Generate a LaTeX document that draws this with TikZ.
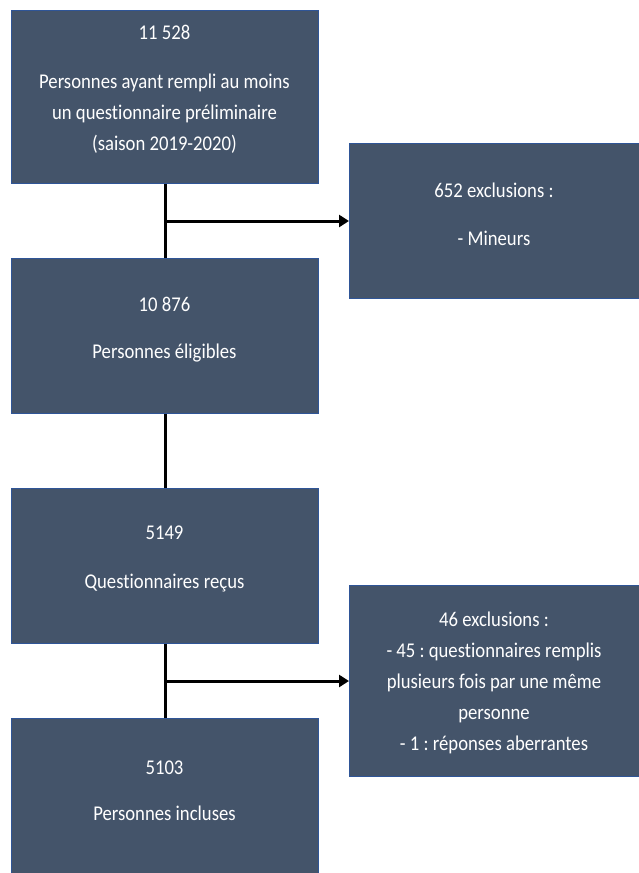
\documentclass[tikz,border=0pt]{standalone}
\usepackage{fontspec}
\setmainfont[FakeStretch=0.89, Ligatures={NoCommon}]{Carlito}
\frenchspacing
\usetikzlibrary{arrows.meta,calc}
\definecolor{boxfill}{HTML}{44546A}
\definecolor{boxline}{HTML}{2F5597}
\tikzset{
  flowbox/.style={draw=boxline, line width=1pt, fill=boxfill, rectangle, anchor=north west, inner sep=0pt},
  boxtext/.style={text=white, align=center, font=\fontsize{21}{31}\selectfont, inner sep=0pt},
  link/.style={line width=3pt, draw=black},
  linkarrow/.style={line width=3pt, draw=black, -{Triangle[length=10pt,width=12pt]}}
}
\begin{document}
\begin{tikzpicture}[x=1pt,y=-1pt]
\useasboundingbox (0,0) rectangle (639,873);
\clip (0,0) rectangle (639,873);
\fill[white] (0,0) rectangle (639,873);
% boxes
\node[flowbox, minimum width=307pt, minimum height=173pt] (b1) at (11,10) {};
\node[flowbox, minimum width=292pt, minimum height=155pt] (r1) at (349,143) {};
\node[flowbox, minimum width=307pt, minimum height=155pt] (b2) at (11,258) {};
\node[flowbox, minimum width=307pt, minimum height=155pt] (b3) at (11,488) {};
\node[flowbox, minimum width=292pt, minimum height=191pt] (r2) at (349,585) {};
\node[flowbox, minimum width=307pt, minimum height=170pt] (b4) at (11,718) {};
% texts
\node[boxtext] (t1) at (164.5,89.5) {11 528\\[18pt]Personnes ayant rempli au moins\\un questionnaire préliminaire\\(saison 2019-2020)};
\node[boxtext] (tr1) at (494,214) {652 exclusions :\\[17pt]- Mineurs};
\node[boxtext] (t2) at (164.5,329.5) {10 876\\[16pt]Personnes éligibles};
\node[boxtext] (t3) at (164.5,558.5) {5149\\[18pt]Questionnaires reçus};
\node[boxtext] (t4) at (164.5,791) {5103\\[15pt]Personnes incluses};
\node[boxtext] (tr2) at (494,683) {46 exclusions :\\- 45 : questionnaires remplis\\plusieurs fois par une même\\personne\\- 1 : réponses aberrantes};
% connectors
\coordinate (j1) at ($(b1.south)!0.5!(b2.north)$);
\coordinate (j2) at ($(b3.south)!0.5!(b4.north)$);
\draw[link] (b1.south) -- (b2.north);
\draw[linkarrow] (j1) -- (r1.west |- j1);
\draw[link] (b2.south) -- (b3.north);
\draw[link] (b3.south) -- (b4.north);
\draw[linkarrow] (j2) -- (r2.west |- j2);
\end{tikzpicture}
\end{document}
